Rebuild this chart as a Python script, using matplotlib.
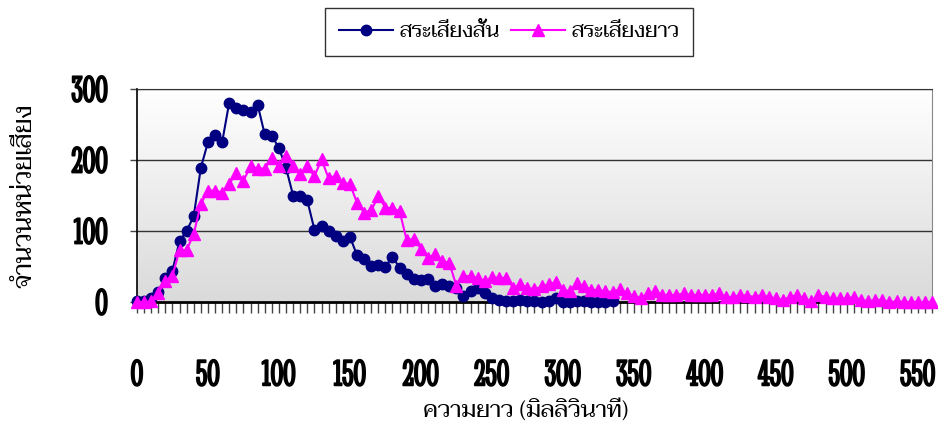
import matplotlib
matplotlib.use("Agg")
import matplotlib.pyplot as plt
import matplotlib.patheffects as pe
import numpy as np
from matplotlib.colors import LinearSegmentedColormap

# duration categories (ms), one every 5 ms
lengths = list(range(0, 565, 5))

short_vowel = [1, 2, 5, 14, 34, 44, 86, 100, 121, 189,
               225, 235, 225, 281, 273, 271, 267, 278, 236, 234,
               217, 189, 150, 150, 143, 102, 107, 100, 93, 86,
               92, 66, 61, 51, 52, 50, 64, 48, 39, 33,
               31, 32, 22, 25, 22, 20, 8, 15, 20, 13,
               6, 3, 2, 1, 3, 2, 1, 0, 1, 6,
               0, 0, 1, 1, 0, 0, 0, 1]

long_vowel = [0, 0, 1, 12, 30, 37, 73, 73, 96, 138,
              157, 157, 154, 166, 182, 171, 191, 188, 188, 203,
              192, 206, 192, 180, 191, 177, 201, 174, 178, 168,
              166, 140, 126, 129, 149, 133, 132, 128, 87, 89,
              75, 62, 68, 58, 55, 23, 37, 36, 34, 29,
              35, 34, 34, 20, 25, 20, 18, 22, 25, 28,
              17, 15, 27, 22, 17, 17, 15, 14, 18, 13,
              8, 6, 12, 15, 10, 10, 10, 12, 10, 10,
              10, 10, 12, 7, 7, 10, 9, 7, 10, 7,
              5, 3, 7, 10, 5, 1, 10, 7, 5, 5,
              5, 7, 3, 1, 3, 3, 0, 1, 0, 0,
              0, 0, 0]

labels = ['สระเสียงสั้น', 'สระเสียงยาว']
x_ticks_major = list(range(0, 551, 50))
y_ticks = [0, 100, 200, 300]

thai_font = ['Taviraj', 'KoHo', 'DejaVu Sans']
num_font = ['Stint Ultra Condensed', 'Saira ExtraCondensed', 'DejaVu Sans']
bold = [pe.withStroke(linewidth=1.3, foreground='black')]

fig = plt.figure(figsize=(9.38, 4.29), dpi=100)
ax = fig.add_axes([0.146, 0.296, 0.8476, 0.4965])

grad = LinearSegmentedColormap.from_list('bg', ['#dadada', '#ffffff'])
ax.imshow(np.linspace(0, 1, 256).reshape(-1, 1), cmap=grad, origin='lower',
          extent=[0, 1, 0, 1], transform=ax.transAxes, aspect='auto', zorder=0)

for y in y_ticks[1:]:
    ax.axhline(y, color='#333333', lw=1.0, zorder=1)

ax.plot(lengths[:len(short_vowel)], short_vowel, color='#000080', lw=1.5,
        marker='o', markersize=7.5, markerfacecolor='#000080',
        markeredgecolor='#000080', clip_on=False, zorder=3, label=labels[0])
ax.plot(lengths[:len(long_vowel)], long_vowel, color='#ff00ff', lw=1.5,
        marker='^', markersize=9, markerfacecolor='#ff00ff',
        markeredgecolor='#ff00ff', clip_on=False, zorder=4, label=labels[1])

ax.set_xlim(0, 560)
ax.set_ylim(0, 300)

ax.set_xticks(lengths)
ax.set_xticklabels([str(v) if v in x_ticks_major else '' for v in lengths])
ax.tick_params(axis='x', direction='out', length=8, width=1, color='#444444', pad=34)
ax.set_yticks(y_ticks)
ax.tick_params(axis='y', direction='out', length=5, width=1, color='#444444', pad=16)
for t in ax.get_xticklabels() + ax.get_yticklabels():
    t.set_family(num_font)
    t.set_fontsize(27)
    t.set_path_effects(bold)

ax.spines['bottom'].set_linewidth(2)
ax.spines['bottom'].set_color('black')
ax.spines['left'].set_linewidth(1.2)
ax.spines['left'].set_color('black')
ax.spines['right'].set_color('#888888')
ax.spines['top'].set_color('#333333')

fig.text(0.56, 0.043, 'ความยาว (มิลลิวินาที)', family=thai_font, fontsize=17,
         ha='center', va='center')
fig.text(0.027, 0.545, 'จำนวนหน่วยเสียง', family=thai_font, fontsize=18.5,
         ha='center', va='center', rotation=90)

leg = fig.legend(loc='center', bbox_to_anchor=(0.543, 0.925), ncol=2,
                 prop={'family': thai_font, 'size': 15.5}, frameon=True,
                 fancybox=False, edgecolor='black', handlelength=2.5,
                 columnspacing=0.5, handletextpad=0.3, borderpad=0.65)
leg.get_frame().set_linewidth(1.0)

fig.savefig('out.png')
